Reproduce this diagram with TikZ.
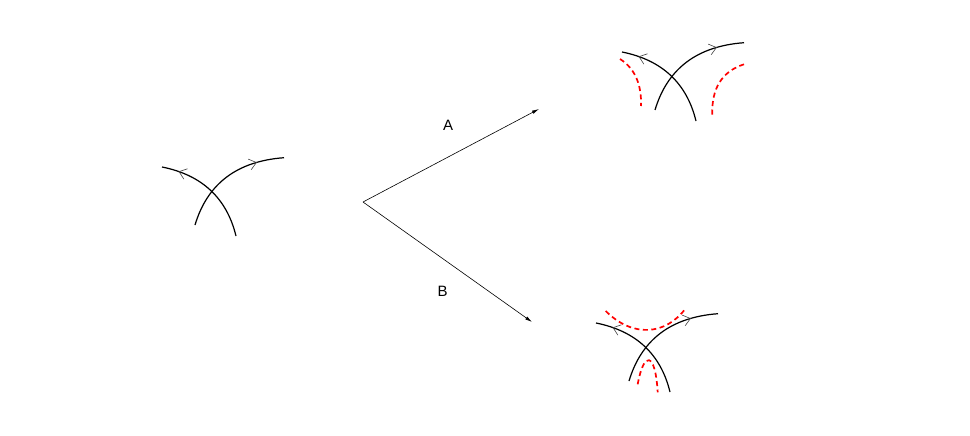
\documentclass[tikz,border=0pt]{standalone}
\usepackage{fontspec}
\setmainfont{Liberation Sans}
\usetikzlibrary{arrows.meta,decorations.markings}
\begin{document}
\begin{tikzpicture}[x=1pt,y=-1pt,
  strand/.style={line width=1.2pt,black},
  chev/.style={line width=0.6pt,draw=black!75},
  backmark/.style={postaction={decorate},decoration={markings,
     mark=at position #1 with {\arrowreversed[chev]{Straight Barb[length=7pt,width=11pt]}}}},
  fwdmark/.style={postaction={decorate},decoration={markings,
     mark=at position #1 with {\arrow[chev]{Straight Barb[length=7pt,width=11pt]}}}},
  reddash/.style={line width=1.7pt,red,dash pattern=on 5pt off 3.5pt},
  flow/.style={line width=0.6pt,-{Latex[length=7pt,width=3.5pt]}},
  lab/.style={font=\fontsize{15}{17}\selectfont,inner sep=0pt}
]
\useasboundingbox (0,0) rectangle (970,436);
% one crossing of two oriented strands
\newcommand{\crossingpair}{%
  \draw[strand,backmark=0.16] (162,167) .. controls (202,175) and (226.7,198) .. (236,236);
  \draw[strand,fwdmark=0.77] (195,225) .. controls (207.4,183.7) and (236.9,161.2) .. (284,157.7);
}
\crossingpair
\begin{scope}[shift={(460,-115)}]
  \crossingpair
\end{scope}
\begin{scope}[shift={(434,156)}]
  \crossingpair
\end{scope}
% red dashed smoothings, case A
\draw[reddash] (620,59) .. controls (634.7,68.3) and (641.7,84) .. (641,106);
\draw[reddash] (744,64.3) .. controls (722,71.4) and (711.4,88.3) .. (712.3,115);
% red dashed smoothings, case B
\draw[reddash] (605.7,311) .. controls (632.7,338) and (665.7,335.3) .. (685.7,308.3);
\draw[reddash] (637.7,384.3) .. controls (643.6,351.3) and (655.2,350.3) .. (657.7,392.3);
% arrows
\coordinate (o) at (363,202);
\coordinate (ta) at (539,109);
\coordinate (tb) at (532,322);
\draw[flow] (o) -- (ta);
\draw[flow] (o) -- (tb);
\node[lab] (A) at (448,125) {A};
\node[lab] (B) at (442.5,291) {B};
\end{tikzpicture}
\end{document}
